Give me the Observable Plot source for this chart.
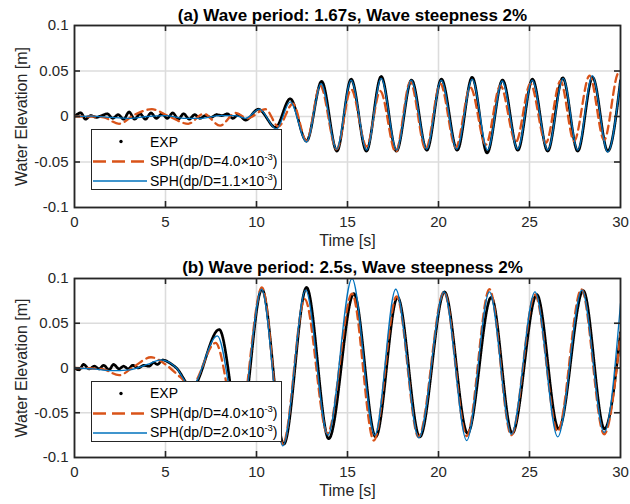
<!DOCTYPE html>
<html><head><meta charset="utf-8">
<script src="https://cdn.jsdelivr.net/npm/d3@7"></script>
<script src="https://cdn.jsdelivr.net/npm/@observablehq/plot@0.6"></script>
<style>
body{margin:0;background:#fff;font-family:"Liberation Sans",Arial,Helvetica,sans-serif;}
#wrap{width:630px;}
.panel{position:relative;width:630px;height:252px;}
.panel svg{display:block;}
.legend{position:absolute;background:#fff;border:1.7px solid #262626;box-sizing:border-box;width:191px;height:61px;font-size:14px;color:#000;}
.legend .lt{position:absolute;left:58px;height:20px;line-height:20px;white-space:nowrap;}
.legend sup{font-size:9.5px;vertical-align:0;position:relative;top:-6px;}
</style></head>
<body><div id="wrap"></div>
<script>
// ---------- data ----------
const xTicks = [0, 5, 10, 15, 20, 25, 30];
const yTicks = [-0.1, -0.05, 0, 0.05, 0.1];
const yTickLabels = ["-0.1", "-0.05", "0", "0.05", "0.1"];
const titles = ["(a) Wave period: 1.67s, Wave steepness 2%", "(b) Wave period: 2.5s, Wave steepness 2%"];
const xLabel = "Time [s]";
const yLabel = "Water Elevation [m]";
const legendA = ["EXP", "SPH(dp/D=4.0\u00d710<sup>-3</sup>)", "SPH(dp/D=1.1\u00d710<sup>-3</sup>)"];
const legendB = ["EXP", "SPH(dp/D=4.0\u00d710<sup>-3</sup>)", "SPH(dp/D=2.0\u00d710<sup>-3</sup>)"];

// panel (a): [time s, elevation m]
const expA = [[0,0],[0.35,0.004],[0.6,-0.003],[0.9,0.001],[1.2,-0.001],[1.5,0.001],[1.8,0.003],[2.1,-0.002],[2.4,0.002],[2.7,-0.003],[3.0,0.005],[3.3,-0.003],[3.6,0.003],[3.9,-0.003],[4.2,0.004],[4.5,-0.002],[4.8,0.003],[5.1,-0.002],[5.4,0.004],[5.7,-0.003],[6.0,0.003],[6.3,-0.003],[6.6,0.002],[6.9,-0.002],[7.2,0.001],[7.5,-0.001],[7.8,0.002],[8.1,0.001],[8.4,0.003],[8.7,-0.002],[9.0,0.002],[9.4,-0.004],[10.1,0.008],[11.05,-0.012],[11.85,0.0195],[12.75,-0.027],[13.58,0.0385],[14.42,-0.038],[15.2,0.041],[16.04,-0.038],[16.85,0.044],[17.69,-0.038],[18.52,0.040],[19.36,-0.037],[20.16,0.041],[21.03,-0.037],[21.85,0.043],[22.67,-0.040],[23.52,0.040],[24.36,-0.037],[25.16,0.041],[26.0,-0.038],[26.83,0.0425],[27.65,-0.038],[28.47,0.043],[29.3,-0.038],[30,0.040]];
const sphA40 = [[0,0],[1.0,0],[1.6,-0.001],[2.45,-0.008],[3.3,0.002],[4.25,0.008],[5.2,0.0],[6.25,-0.008],[7.1,0.003],[8.0,-0.010],[8.85,0.004],[9.5,-0.002],[10.5,0.008],[11.2,-0.011],[12.0,0.014],[12.75,-0.027],[13.5,0.034],[14.4,-0.036],[15.2,0.030],[16.05,-0.033],[16.8,0.028],[17.65,-0.039],[18.45,0.038],[19.3,-0.036],[20.1,0.036],[20.95,-0.034],[21.75,0.032],[22.6,-0.031],[23.4,0.034],[24.25,-0.028],[25.05,0.036],[25.9,-0.029],[26.7,0.039],[27.45,-0.027],[28.3,0.045],[29.1,-0.026],[29.9,0.048],[30,0.047]];
const sphA11 = [[0,0],[1,0.0005],[2,-0.001],[3,-0.002],[4,0.0],[5,0.001],[6,-0.002],[7,-0.002],[8,0.001],[8.8,0.001],[9.4,-0.002],[10.15,0.008],[11.1,-0.014],[11.85,0.016],[12.75,-0.028],[13.55,0.036],[14.4,-0.036],[15.2,0.040],[16.05,-0.037],[16.85,0.042],[17.7,-0.037],[18.5,0.040],[19.35,-0.036],[20.15,0.040],[21.0,-0.036],[21.85,0.041],[22.7,-0.037],[23.5,0.039],[24.35,-0.036],[25.15,0.040],[26.0,-0.037],[26.85,0.042],[27.65,-0.037],[28.45,0.045],[29.3,-0.039],[30,0.041]];

// panel (b)
const expB = [[0,0],[0.25,-0.002],[0.5,0.004],[0.8,-0.001],[1.1,0.002],[1.35,-0.001],[1.6,0.003],[1.9,-0.002],[2.15,0.004],[2.45,-0.001],[2.7,0.002],[2.95,-0.001],[3.2,0.003],[3.5,0.0],[3.8,0.003],[4.1,0.002],[4.35,0.006],[4.55,0.004],[4.85,0.009],[5.2,0.006],[5.6,0.0],[6.45,-0.022],[7.95,0.043],[9.1,-0.07],[10.3,0.088],[11.5,-0.085],[12.75,0.090],[13.97,-0.079],[15.35,0.083],[16.55,-0.077],[17.75,0.079],[18.97,-0.077],[20.33,0.085],[21.6,-0.073],[22.9,0.079],[24.05,-0.073],[25.4,0.082],[26.6,-0.068],[27.95,0.0865],[29.12,-0.068],[30,0.040]];
const sphB40 = [[0,0],[1.5,-0.001],[2.45,-0.008],[3.3,0.002],[4.2,0.012],[5.0,0.004],[5.8,-0.010],[6.4,-0.02],[7.75,0.028],[9.0,-0.07],[10.3,0.090],[11.45,-0.085],[12.65,0.077],[13.9,-0.073],[15.25,0.083],[16.45,-0.081],[17.7,0.080],[18.9,-0.077],[20.3,0.085],[21.55,-0.076],[22.8,0.088],[24.0,-0.075],[25.3,0.082],[26.55,-0.071],[27.85,0.088],[29.1,-0.074],[30,0.038]];
const sphB20 = [[0,0],[1,-0.001],[2,-0.003],[3,-0.002],[4,0.004],[4.75,0.009],[5.6,0.0],[6.4,-0.022],[7.85,0.036],[9.05,-0.07],[10.28,0.088],[11.45,-0.087],[12.7,0.087],[13.92,-0.075],[15.25,0.100],[16.5,-0.075],[17.65,0.088],[18.92,-0.078],[20.3,0.085],[21.55,-0.081],[22.8,0.085],[24.0,-0.074],[25.3,0.085],[26.55,-0.077],[27.88,0.087],[29.1,-0.072],[30,0.072]];

// ---------- drawing ----------
const C_EXP = "#000000", C_40 = "#D95319", C_FINE = "#0072BD";
const W = 630, H = 252;

function panel({title, exp, coarse, fine, legend, mt, mb, legendTop, titleDy}) {
  const ml = 74, mr = 10;
  const fh = H - mt - mb, fw = W - ml - mr;
  const fmt = d => yTickLabels[yTicks.indexOf(d)];
  const svg = Plot.plot({
    width: W, height: H,
    marginLeft: ml, marginRight: mr, marginTop: mt, marginBottom: mb,
    style: {fontFamily: '"Liberation Sans", Arial, Helvetica, sans-serif', fontSize: "15px", color: "#262626", background: "#fff"},
    x: {domain: [0, 30], ticks: xTicks, tickSize: 0, tickPadding: 9, label: xLabel, labelAnchor: "center", labelOffset: 38, labelArrow: "none"},
    y: {domain: [-0.1, 0.1], ticks: yTicks, tickFormat: fmt, tickSize: 0, tickPadding: 6, label: yLabel, labelAnchor: "center", labelOffset: 59, labelArrow: "none"},
    marks: [
      Plot.gridX(xTicks, {stroke: "#dcdcdc", strokeOpacity: 1, strokeWidth: 1.6}),
      Plot.gridY(yTicks, {stroke: "#dcdcdc", strokeOpacity: 1, strokeWidth: 1.6}),
      Plot.line(exp, {x: d => d[0], y: d => d[1], stroke: C_EXP, strokeWidth: 2.7, strokeDasharray: "1.6,0.9", curve: "monotone-x", clip: true}),
      Plot.line(coarse, {x: d => d[0], y: d => d[1], stroke: C_40, strokeWidth: 2.3, strokeDasharray: "8,5", curve: "monotone-x", clip: true}),
      Plot.line(fine, {x: d => d[0], y: d => d[1], stroke: C_FINE, strokeWidth: 1.3, curve: "monotone-x", clip: true}),
      Plot.ruleX(xTicks.slice(1, -1), {stroke: "#262626", strokeWidth: 1.6, insetBottom: fh - 6}),
      Plot.ruleX(xTicks.slice(1, -1), {stroke: "#262626", strokeWidth: 1.6, insetTop: fh - 6}),
      Plot.ruleY(yTicks.slice(1, -1), {stroke: "#262626", strokeWidth: 1.6, insetRight: fw - 6}),
      Plot.ruleY(yTicks.slice(1, -1), {stroke: "#262626", strokeWidth: 1.6, insetLeft: fw - 6}),
      Plot.frame({stroke: "#262626", strokeWidth: 1.8}),
      Plot.text([title], {frameAnchor: "top", dy: titleDy, dx: 5, text: d => d, fontWeight: "bold", fontSize: 17, fill: "#000"})
    ]
  });
  svg.querySelectorAll('[aria-label="y-axis label"] text, [aria-label="x-axis label"] text')
    .forEach(t => t.setAttribute("font-size", "16px"));
  svg.querySelectorAll('[aria-label="y-axis label"], [aria-label="x-axis label"]')
    .forEach(g => g.style.fontSize = "16px");
  const div = document.createElement("div");
  div.className = "panel";
  div.appendChild(svg);
  const lg = document.createElement("div");
  lg.className = "legend";
  lg.style.left = "91px";
  lg.style.top = legendTop + "px";
  lg.innerHTML =
    `<svg width="60" height="61" style="position:absolute;left:0;top:0">
       <circle cx="29" cy="11.5" r="1.7" fill="${C_EXP}"/>
       <line x1="1" x2="55" y1="31.5" y2="31.5" stroke="${C_40}" stroke-width="2.4" stroke-dasharray="13,6"/>
       <line x1="1" x2="55" y1="51" y2="51" stroke="${C_FINE}" stroke-width="1.3"/>
     </svg>` +
    legend.map((t, i) => `<div class="lt" style="top:${1.5 + i * 19.7}px">${t}</div>`).join("");
  div.appendChild(lg);
  return div;
}

const wrap = document.getElementById("wrap");
wrap.appendChild(panel({title: titles[0], exp: expA, coarse: sphA40, fine: sphA11, legend: legendA, mt: 25, mb: 45, legendTop: 129, titleDy: -17}));
wrap.appendChild(panel({title: titles[1], exp: expB, coarse: sphB40, fine: sphB20, legend: legendB, mt: 26, mb: 47, legendTop: 128.5, titleDy: -18}));
</script></body></html>
